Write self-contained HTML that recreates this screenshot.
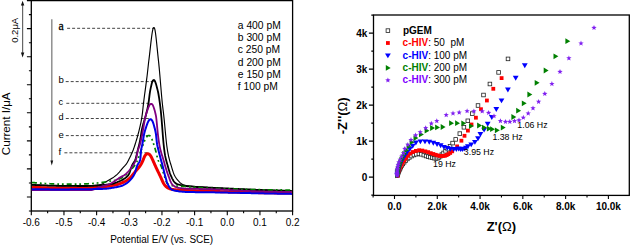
<!DOCTYPE html>
<html><head><meta charset="utf-8"><style>
html,body{margin:0;padding:0;background:#fff;width:630px;height:245px;overflow:hidden}
svg{display:block;font-family:"Liberation Sans", sans-serif}
</style></head><body>
<svg width="630" height="245" viewBox="0 0 630 245">
<rect width="630" height="245" fill="#fff"/>
<rect x="31.3" y="0.6" width="261.30" height="210.40" fill="none" stroke="#000" stroke-width="1.3"/>
<path d="M26.90 0.60H31.3 M28.90 14.63H31.3 M26.90 28.65H31.3 M28.90 42.68H31.3 M26.90 56.71H31.3 M28.90 70.73H31.3 M26.90 84.76H31.3 M28.90 98.79H31.3 M26.90 112.81H31.3 M28.90 126.84H31.3 M26.90 140.87H31.3 M28.90 154.89H31.3 M26.90 168.92H31.3 M28.90 182.95H31.3 M26.90 196.97H31.3 M28.90 211.00H31.3 M31.30 211.0V215.20 M47.63 211.0V213.20 M63.96 211.0V215.20 M80.29 211.0V213.20 M96.62 211.0V215.20 M112.96 211.0V213.20 M129.29 211.0V215.20 M145.62 211.0V213.20 M161.95 211.0V215.20 M178.28 211.0V213.20 M194.61 211.0V215.20 M210.94 211.0V213.20 M227.28 211.0V215.20 M243.61 211.0V213.20 M259.94 211.0V215.20 M276.27 211.0V213.20 M292.60 211.0V215.20" stroke="#000" stroke-width="1.1" fill="none"/>
<text x="31.30" y="225.8" text-anchor="middle" font-size="10" fill="#000">-0.6</text>
<text x="63.96" y="225.8" text-anchor="middle" font-size="10" fill="#000">-0.5</text>
<text x="96.62" y="225.8" text-anchor="middle" font-size="10" fill="#000">-0.4</text>
<text x="129.29" y="225.8" text-anchor="middle" font-size="10" fill="#000">-0.3</text>
<text x="161.95" y="225.8" text-anchor="middle" font-size="10" fill="#000">-0.2</text>
<text x="194.61" y="225.8" text-anchor="middle" font-size="10" fill="#000">-0.1</text>
<text x="227.28" y="225.8" text-anchor="middle" font-size="10" fill="#000">0.0</text>
<text x="259.94" y="225.8" text-anchor="middle" font-size="10" fill="#000">0.1</text>
<text x="292.60" y="225.8" text-anchor="middle" font-size="10" fill="#000">0.2</text>
<text x="110.2" y="242.9" font-size="10" textLength="103" lengthAdjust="spacingAndGlyphs" fill="#000">Potential E/V (vs. SCE)</text>
<text transform="translate(10.0 155.2) rotate(-90)" font-size="11" textLength="62.8" lengthAdjust="spacingAndGlyphs" fill="#000">Current I/&#956;A</text>
<text transform="translate(17.8 42.8) rotate(-90)" font-size="9.6" textLength="25" lengthAdjust="spacingAndGlyphs" fill="#000">0.2&#956;A</text>
<path d="M22.6 4V54" stroke="#666" stroke-width="1.2"/>
<path d="M20.9 5.6L22.6 0.8L24.3 5.6Z M20.9 52.4L22.6 57.4L24.3 52.4Z" fill="#111"/>
<path d="M51.8 19.3V161" stroke="#888" stroke-width="1.4"/>
<path d="M50.4 160.6L51.8 165.6L53.2 160.6Z" fill="#111"/>
<text x="58.4" y="30.3" font-family="Liberation Serif, serif" font-size="11.8" fill="#000" stroke="#000" stroke-width="0.3">a</text>
<text x="58.4" y="83.3" font-size="9.6" fill="#000">b</text>
<text x="58.4" y="104.6" font-size="9.2" fill="#000">c</text>
<text x="58.4" y="119.8" font-size="9.2" fill="#000">d</text>
<text x="58.4" y="137.7" font-size="9.6" fill="#000">e</text>
<text x="58.4" y="155.0" font-size="9.8" fill="#000">f</text>
<path d="M67.1 28.3H153.9" stroke="#444" stroke-width="1" stroke-dasharray="3 2"/>
<path d="M65.7 81.6H153.6" stroke="#444" stroke-width="1" stroke-dasharray="3 2"/>
<path d="M66.3 103.3H151.2" stroke="#444" stroke-width="1" stroke-dasharray="3 2"/>
<path d="M65.8 118.5H150.6" stroke="#444" stroke-width="1" stroke-dasharray="3 2"/>
<path d="M65.8 135.6H149" stroke="#444" stroke-width="1" stroke-dasharray="3 2"/>
<path d="M64.4 152.8H147.6" stroke="#444" stroke-width="1" stroke-dasharray="3 2"/>
<text x="237.8" y="29.00" font-size="10.3" fill="#000">a 400 pM</text>
<text x="237.8" y="41.20" font-size="10.3" fill="#000">b 300 pM</text>
<text x="237.8" y="53.40" font-size="10.3" fill="#000">c 250 pM</text>
<text x="237.8" y="65.60" font-size="10.3" fill="#000">d 200 pM</text>
<text x="237.8" y="77.80" font-size="10.3" fill="#000">e 150 pM</text>
<text x="237.8" y="90.00" font-size="10.3" fill="#000">f 100 pM</text>
<path d="M32.02 187.25 L32.62 187.27 L33.42 187.31 L34.33 187.35 L35.30 187.39 L36.30 187.43 L37.29 187.48 L38.29 187.52 L39.29 187.56 L40.29 187.60 L41.29 187.63 L42.29 187.67 L43.29 187.71 L44.29 187.74 L45.29 187.77 L46.29 187.80 L47.29 187.83 L48.29 187.86 L49.29 187.89 L50.29 187.91 L51.29 187.93 L52.29 187.95 L53.29 187.97 L54.29 187.99 L55.29 188.00 L56.29 188.02 L57.29 188.03 L58.29 188.04 L59.29 188.05 L60.29 188.07 L61.29 188.08 L62.29 188.09 L63.29 188.10 L64.29 188.11 L65.29 188.12 L66.29 188.13 L67.29 188.14 L68.29 188.15 L69.29 188.15 L70.28 188.16 L71.28 188.17 L72.28 188.17 L73.28 188.18 L74.28 188.19 L75.28 188.19 L76.28 188.19 L77.28 188.20 L78.28 188.20 L79.28 188.20 L80.28 188.19 L81.28 188.18 L82.28 188.17 L83.28 188.15 L84.28 188.12 L85.28 188.09 L86.28 188.05 L87.28 188.01 L88.28 187.96 L89.28 187.91 L90.28 187.85 L91.27 187.78 L92.27 187.71 L93.27 187.64 L94.27 187.57 L95.26 187.49 L96.26 187.41 L97.26 187.32 L98.25 187.23 L99.25 187.14 L100.24 187.05 L101.24 186.96 L102.24 186.87 L103.23 186.77 L104.23 186.67 L105.22 186.57 L106.21 186.45 L107.21 186.33 L108.20 186.20 L109.19 186.06 L110.18 185.91 L111.16 185.74 L112.15 185.56 L113.13 185.37 L114.11 185.17 L115.08 184.95 L116.05 184.72 L117.02 184.47 L117.98 184.19 L118.94 183.90 L119.88 183.58 L120.82 183.25 L121.76 182.89 L122.68 182.51 L123.60 182.11 L124.50 181.68 L125.38 181.22 L126.25 180.73 L127.09 180.20 L127.91 179.62 L128.70 179.02 L129.46 178.37 L130.19 177.69 L130.88 176.98 L131.54 176.24 L132.18 175.47 L132.80 174.69 L133.42 173.90 L134.04 173.12 L134.68 172.34 L135.32 171.58 L135.98 170.83 L136.64 170.08 L137.30 169.33 L137.95 168.57 L138.59 167.80 L139.21 167.02 L139.80 166.21 L140.37 165.39 L140.90 164.55 L141.40 163.68 L141.86 162.80 L142.30 161.90 L142.72 161.00 L143.11 160.08 L143.47 159.15 L143.83 158.22 L144.19 157.29 L144.59 156.39 L145.07 155.54 L145.64 154.79 L146.30 154.18 L147.05 153.80 L147.83 153.70 L148.61 153.91 L149.35 154.37 L150.00 155.02 L150.58 155.80 L151.09 156.64 L151.55 157.52 L151.99 158.42 L152.41 159.32 L152.82 160.23 L153.24 161.14 L153.64 162.06 L154.05 162.97 L154.45 163.89 L154.86 164.80 L155.27 165.71 L155.68 166.62 L156.10 167.53 L156.52 168.44 L156.95 169.34 L157.38 170.24 L157.82 171.14 L158.26 172.04 L158.70 172.94 L159.14 173.84 L159.57 174.74 L160.01 175.64 L160.43 176.54 L160.84 177.45 L161.25 178.37 L161.64 179.29 L162.04 180.20 L162.45 181.11 L162.88 182.02 L163.33 182.91 L163.82 183.77 L164.36 184.60 L164.96 185.39 L165.61 186.13 L166.33 186.82 L167.10 187.42 L167.93 187.94 L168.81 188.37 L169.73 188.72 L170.69 189.00 L171.65 189.24 L172.63 189.43 L173.62 189.59 L174.61 189.72 L175.60 189.83 L176.60 189.92 L177.59 190.01 L178.59 190.08 L179.59 190.15 L180.58 190.22 L181.58 190.28 L182.58 190.34 L183.58 190.39 L184.58 190.44 L185.58 190.49 L186.58 190.54 L187.57 190.58 L188.57 190.62 L189.57 190.66 L190.57 190.70 L191.57 190.73 L192.57 190.76 L193.57 190.80 L194.57 190.83 L195.57 190.86 L196.57 190.89 L197.57 190.92 L198.57 190.96 L199.57 190.99 L200.57 191.02 L201.57 191.05 L202.57 191.08 L203.57 191.11 L204.56 191.15 L205.56 191.18 L206.56 191.21 L207.56 191.24 L208.56 191.27 L209.56 191.31 L210.56 191.34 L211.56 191.37 L212.56 191.40 L213.56 191.43 L214.56 191.46 L215.56 191.50 L216.56 191.53 L217.56 191.56 L218.56 191.59 L219.56 191.62 L220.56 191.65 L221.56 191.68 L222.56 191.71 L223.56 191.74 L224.56 191.77 L225.55 191.80 L226.55 191.83 L227.55 191.86 L228.55 191.89 L229.55 191.92 L230.55 191.95 L231.55 191.98 L232.55 192.00 L233.55 192.03 L234.55 192.06 L235.55 192.09 L236.55 192.11 L237.55 192.14 L238.55 192.17 L239.55 192.19 L240.55 192.22 L241.55 192.25 L242.55 192.27 L243.55 192.30 L244.55 192.32 L245.55 192.35 L246.55 192.37 L247.55 192.39 L248.55 192.42 L249.55 192.44 L250.55 192.46 L251.55 192.49 L252.55 192.51 L253.55 192.53 L254.54 192.55 L255.54 192.57 L256.54 192.59 L257.54 192.61 L258.54 192.63 L259.54 192.65 L260.54 192.67 L261.54 192.69 L262.54 192.71 L263.54 192.72 L264.54 192.74 L265.54 192.76 L266.54 192.77 L267.54 192.79 L268.54 192.80 L269.54 192.82 L270.54 192.83 L271.54 192.85 L272.54 192.86 L273.54 192.87 L274.54 192.88 L275.54 192.90 L276.54 192.91 L277.54 192.92 L278.54 192.93 L279.54 192.94 L280.54 192.94 L281.54 192.95 L282.54 192.96 L283.54 192.97 L284.54 192.97 L285.54 192.98 L286.54 192.98 L287.54 192.99 L288.53 192.99 L289.51 192.99 L290.42 193.00 L291.22 193.00 L291.82 193.00" fill="none" stroke="#f00000" stroke-width="3.0" stroke-linejoin="round"/>
<path d="M31.78 184.84 L32.43 184.87 L33.32 184.91 L34.30 184.96 L35.30 185.00 L36.29 185.05 L37.29 185.09 L38.29 185.14 L39.29 185.18 L40.29 185.22 L41.29 185.27 L42.29 185.31 L43.29 185.35 L44.29 185.38 L45.29 185.42 L46.29 185.46 L47.29 185.49 L48.28 185.53 L49.28 185.56 L50.28 185.59 L51.28 185.62 L52.28 185.64 L53.28 185.67 L54.28 185.69 L55.28 185.72 L56.28 185.74 L57.28 185.76 L58.28 185.77 L59.28 185.79 L60.28 185.80 L61.28 185.82 L62.28 185.83 L63.28 185.84 L64.28 185.85 L65.28 185.86 L66.28 185.88 L67.28 185.89 L68.28 185.90 L69.28 185.91 L70.28 185.92 L71.28 185.93 L72.28 185.94 L73.28 185.95 L74.28 185.95 L75.28 185.96 L76.28 185.97 L77.28 185.98 L78.28 185.98 L79.28 185.99 L80.28 185.99 L81.28 185.99 L82.28 186.00 L83.28 186.00 L84.28 186.00 L85.28 185.99 L86.28 185.98 L87.28 185.96 L88.28 185.93 L89.28 185.89 L90.28 185.84 L91.27 185.77 L92.27 185.70 L93.27 185.62 L94.26 185.52 L95.26 185.42 L96.25 185.30 L97.24 185.18 L98.24 185.05 L99.22 184.89 L100.20 184.69 L101.15 184.40 L102.06 184.03 L102.95 183.58 L103.82 183.08 L104.68 182.58 L105.55 182.07 L106.42 181.58 L107.29 181.09 L108.16 180.59 L109.02 180.09 L109.88 179.57 L110.73 179.05 L111.57 178.52 L112.41 177.97 L113.25 177.42 L114.07 176.85 L114.87 176.26 L115.66 175.64 L116.43 175.01 L117.18 174.35 L117.91 173.66 L118.61 172.95 L119.28 172.21 L119.93 171.45 L120.55 170.67 L121.17 169.88 L121.79 169.10 L122.43 168.33 L123.09 167.58 L123.78 166.85 L124.47 166.13 L125.15 165.40 L125.80 164.64 L126.40 163.85 L126.95 163.02 L127.46 162.16 L127.94 161.28 L128.40 160.40 L128.85 159.50 L129.30 158.61 L129.75 157.72 L130.19 156.82 L130.62 155.92 L131.05 155.01 L131.46 154.10 L131.87 153.19 L132.27 152.27 L132.65 151.35 L133.02 150.42 L133.38 149.49 L133.72 148.55 L134.05 147.60 L134.36 146.65 L134.67 145.70 L134.98 144.75 L135.29 143.80 L135.59 142.85 L135.89 141.89 L136.19 140.94 L136.48 139.98 L136.77 139.03 L137.05 138.07 L137.33 137.10 L137.59 136.14 L137.85 135.17 L138.11 134.21 L138.36 133.24 L138.61 132.27 L138.86 131.30 L139.11 130.33 L139.35 129.37 L139.59 128.39 L139.82 127.42 L140.05 126.45 L140.27 125.47 L140.48 124.49 L140.69 123.52 L140.88 122.54 L141.08 121.55 L141.26 120.57 L141.44 119.59 L141.61 118.60 L141.78 117.62 L141.94 116.63 L142.09 115.64 L142.24 114.65 L142.37 113.66 L142.49 112.67 L142.60 111.67 L142.71 110.68 L142.81 109.69 L142.91 108.69 L143.01 107.70 L143.11 106.70 L143.22 105.71 L143.34 104.71 L143.45 103.72 L143.57 102.73 L143.70 101.74 L143.82 100.74 L143.95 99.75 L144.07 98.76 L144.20 97.77 L144.33 96.78 L144.46 95.78 L144.59 94.79 L144.72 93.80 L144.86 92.81 L144.99 91.82 L145.13 90.83 L145.26 89.84 L145.40 88.85 L145.53 87.86 L145.66 86.87 L145.80 85.87 L145.93 84.88 L146.06 83.89 L146.20 82.90 L146.33 81.91 L146.46 80.92 L146.58 79.93 L146.71 78.93 L146.84 77.94 L146.96 76.95 L147.08 75.96 L147.20 74.96 L147.32 73.97 L147.43 72.98 L147.55 71.98 L147.66 70.99 L147.77 70.00 L147.87 69.00 L147.98 68.01 L148.09 67.01 L148.20 66.02 L148.31 65.03 L148.42 64.03 L148.53 63.04 L148.65 62.05 L148.77 61.05 L148.89 60.06 L149.02 59.07 L149.14 58.08 L149.26 57.08 L149.38 56.09 L149.50 55.10 L149.61 54.10 L149.72 53.11 L149.84 52.12 L149.95 51.12 L150.06 50.13 L150.17 49.13 L150.28 48.14 L150.40 47.15 L150.51 46.15 L150.62 45.16 L150.73 44.17 L150.85 43.17 L150.96 42.18 L151.08 41.19 L151.20 40.19 L151.32 39.20 L151.44 38.21 L151.57 37.22 L151.70 36.22 L151.83 35.23 L151.97 34.24 L152.12 33.25 L152.28 32.27 L152.44 31.28 L152.63 30.30 L152.85 29.33 L153.12 28.42 L153.49 27.72 L153.93 27.50 L154.35 27.87 L154.67 28.64 L154.91 29.58 L155.10 30.56 L155.26 31.54 L155.41 32.53 L155.55 33.52 L155.68 34.51 L155.81 35.51 L155.93 36.50 L156.05 37.49 L156.16 38.49 L156.27 39.48 L156.38 40.47 L156.49 41.47 L156.59 42.46 L156.69 43.46 L156.80 44.45 L156.90 45.45 L157.00 46.44 L157.10 47.44 L157.20 48.43 L157.30 49.43 L157.40 50.42 L157.50 51.42 L157.60 52.41 L157.70 53.41 L157.80 54.40 L157.90 55.40 L158.01 56.39 L158.11 57.39 L158.22 58.38 L158.33 59.37 L158.44 60.37 L158.55 61.36 L158.65 62.36 L158.76 63.35 L158.86 64.35 L158.95 65.34 L159.05 66.34 L159.15 67.33 L159.24 68.33 L159.33 69.32 L159.42 70.32 L159.51 71.32 L159.60 72.31 L159.68 73.31 L159.77 74.30 L159.86 75.30 L159.94 76.30 L160.03 77.29 L160.11 78.29 L160.20 79.29 L160.28 80.28 L160.36 81.28 L160.45 82.28 L160.53 83.27 L160.61 84.27 L160.70 85.26 L160.78 86.26 L160.87 87.26 L160.95 88.25 L161.03 89.25 L161.12 90.25 L161.21 91.24 L161.29 92.24 L161.38 93.24 L161.47 94.23 L161.55 95.23 L161.64 96.22 L161.73 97.22 L161.83 98.22 L161.92 99.21 L162.01 100.21 L162.11 101.20 L162.21 102.20 L162.31 103.19 L162.42 104.19 L162.52 105.18 L162.63 106.17 L162.75 107.17 L162.87 108.16 L162.99 109.15 L163.11 110.15 L163.24 111.14 L163.36 112.13 L163.48 113.12 L163.60 114.12 L163.71 115.11 L163.82 116.10 L163.92 117.10 L164.03 118.09 L164.13 119.09 L164.23 120.08 L164.33 121.08 L164.42 122.07 L164.52 123.07 L164.61 124.06 L164.71 125.06 L164.80 126.06 L164.89 127.05 L164.99 128.05 L165.08 129.04 L165.17 130.04 L165.26 131.03 L165.36 132.03 L165.45 133.03 L165.55 134.02 L165.64 135.02 L165.74 136.01 L165.83 137.01 L165.93 138.00 L166.03 139.00 L166.14 139.99 L166.24 140.99 L166.35 141.98 L166.46 142.97 L166.58 143.97 L166.70 144.96 L166.82 145.95 L166.95 146.94 L167.09 147.93 L167.24 148.92 L167.39 149.91 L167.56 150.90 L167.74 151.88 L167.92 152.86 L168.11 153.85 L168.31 154.83 L168.51 155.80 L168.73 156.78 L168.95 157.75 L169.19 158.73 L169.43 159.70 L169.69 160.66 L169.96 161.63 L170.24 162.58 L170.54 163.54 L170.84 164.49 L171.13 165.45 L171.43 166.41 L171.71 167.36 L172.00 168.32 L172.29 169.28 L172.58 170.24 L172.88 171.19 L173.19 172.14 L173.53 173.08 L173.90 174.01 L174.30 174.92 L174.75 175.81 L175.24 176.68 L175.76 177.54 L176.32 178.37 L176.91 179.17 L177.54 179.94 L178.20 180.69 L178.88 181.42 L179.59 182.13 L180.31 182.82 L181.07 183.47 L181.87 184.05 L182.73 184.54 L183.64 184.92 L184.59 185.20 L185.57 185.40 L186.55 185.57 L187.54 185.71 L188.53 185.83 L189.53 185.95 L190.52 186.05 L191.52 186.15 L192.51 186.25 L193.51 186.33 L194.51 186.42 L195.50 186.49 L196.50 186.57 L197.50 186.64 L198.50 186.70 L199.49 186.77 L200.49 186.83 L201.49 186.88 L202.49 186.94 L203.49 186.99 L204.49 187.04 L205.48 187.09 L206.48 187.14 L207.48 187.18 L208.48 187.23 L209.48 187.28 L210.48 187.32 L211.48 187.37 L212.48 187.42 L213.48 187.47 L214.47 187.52 L215.47 187.56 L216.47 187.61 L217.47 187.66 L218.47 187.71 L219.47 187.76 L220.47 187.81 L221.47 187.85 L222.46 187.90 L223.46 187.95 L224.46 188.00 L225.46 188.05 L226.46 188.09 L227.46 188.14 L228.46 188.19 L229.46 188.24 L230.46 188.28 L231.45 188.33 L232.45 188.38 L233.45 188.42 L234.45 188.47 L235.45 188.52 L236.45 188.56 L237.45 188.61 L238.45 188.66 L239.45 188.70 L240.44 188.75 L241.44 188.79 L242.44 188.84 L243.44 188.88 L244.44 188.93 L245.44 188.97 L246.44 189.02 L247.44 189.06 L248.44 189.11 L249.44 189.15 L250.43 189.19 L251.43 189.24 L252.43 189.28 L253.43 189.32 L254.43 189.37 L255.43 189.41 L256.43 189.45 L257.43 189.49 L258.43 189.53 L259.43 189.58 L260.43 189.62 L261.43 189.66 L262.42 189.70 L263.42 189.74 L264.42 189.78 L265.42 189.82 L266.42 189.86 L267.42 189.90 L268.42 189.94 L269.42 189.98 L270.42 190.01 L271.42 190.05 L272.42 190.09 L273.42 190.13 L274.42 190.17 L275.41 190.21 L276.41 190.24 L277.41 190.28 L278.41 190.32 L279.41 190.35 L280.41 190.39 L281.41 190.43 L282.41 190.46 L283.41 190.50 L284.41 190.53 L285.41 190.57 L286.41 190.61 L287.41 190.64 L288.41 190.68 L289.40 190.71 L290.38 190.74 L291.27 190.77 L291.93 190.80" fill="none" stroke="#000" stroke-width="1.15" stroke-linejoin="round"/>
<path d="M31.78 184.84 L32.43 184.87 L33.32 184.91 L34.30 184.96 L35.30 185.00 L36.29 185.05 L37.29 185.09 L38.29 185.14 L39.29 185.18 L40.29 185.22 L41.29 185.27 L42.29 185.31 L43.29 185.35 L44.29 185.38 L45.29 185.42 L46.29 185.46 L47.29 185.49 L48.28 185.53 L49.28 185.56 L50.28 185.59 L51.28 185.62 L52.28 185.64 L53.28 185.67 L54.28 185.69 L55.28 185.72 L56.28 185.74 L57.28 185.76 L58.28 185.77 L59.28 185.79 L60.28 185.80 L61.28 185.82 L62.28 185.83 L63.28 185.84 L64.28 185.85 L65.28 185.86 L66.28 185.88 L67.28 185.89 L68.28 185.90 L69.28 185.91 L70.28 185.92 L71.28 185.93 L72.28 185.94 L73.28 185.95 L74.28 185.95 L75.28 185.96 L76.28 185.97 L77.28 185.98 L78.28 185.98 L79.28 185.99 L80.28 185.99 L81.28 185.99 L82.28 186.00 L83.28 186.00 L84.28 186.00 L85.28 186.00 L86.28 185.99 L87.28 185.98 L88.28 185.96 L89.28 185.93 L90.28 185.90 L91.28 185.86 L92.28 185.82 L93.28 185.77 L94.27 185.72 L95.27 185.66 L96.27 185.59 L97.27 185.52 L98.27 185.44 L99.26 185.36 L100.26 185.27 L101.25 185.18 L102.25 185.09 L103.24 184.99 L104.24 184.88 L105.23 184.77 L106.23 184.66 L107.22 184.54 L108.21 184.42 L109.20 184.29 L110.19 184.15 L111.18 183.98 L112.16 183.78 L113.13 183.54 L114.09 183.27 L115.04 182.96 L115.98 182.63 L116.92 182.28 L117.85 181.91 L118.77 181.53 L119.69 181.13 L120.60 180.72 L121.50 180.29 L122.40 179.85 L123.27 179.37 L124.13 178.85 L124.95 178.29 L125.75 177.69 L126.51 177.04 L127.23 176.35 L127.90 175.61 L128.50 174.83 L129.00 173.97 L129.41 173.07 L129.77 172.14 L130.09 171.19 L130.39 170.24 L130.69 169.29 L130.99 168.33 L131.30 167.38 L131.64 166.44 L132.02 165.52 L132.46 164.62 L132.95 163.76 L133.49 162.92 L134.03 162.08 L134.54 161.22 L134.99 160.33 L135.37 159.41 L135.70 158.47 L135.98 157.51 L136.24 156.55 L136.48 155.58 L136.72 154.61 L136.94 153.63 L137.17 152.66 L137.40 151.68 L137.63 150.71 L137.87 149.74 L138.11 148.77 L138.36 147.80 L138.61 146.83 L138.86 145.87 L139.10 144.90 L139.34 143.92 L139.56 142.95 L139.78 141.97 L139.99 141.00 L140.18 140.02 L140.37 139.03 L140.53 138.05 L140.69 137.06 L140.84 136.07 L140.98 135.08 L141.13 134.09 L141.28 133.10 L141.43 132.11 L141.60 131.13 L141.79 130.15 L141.99 129.17 L142.21 128.19 L142.44 127.22 L142.68 126.25 L142.94 125.28 L143.20 124.32 L143.48 123.36 L143.76 122.40 L144.05 121.44 L144.34 120.48 L144.63 119.53 L144.92 118.57 L145.19 117.61 L145.46 116.64 L145.72 115.68 L145.97 114.71 L146.22 113.74 L146.46 112.77 L146.70 111.80 L146.94 110.83 L147.17 109.86 L147.40 108.88 L147.61 107.91 L147.82 106.93 L148.01 105.95 L148.19 104.96 L148.36 103.98 L148.51 102.99 L148.65 102.00 L148.79 101.01 L148.91 100.02 L149.04 99.02 L149.16 98.03 L149.28 97.04 L149.40 96.05 L149.53 95.05 L149.66 94.06 L149.80 93.07 L149.94 92.08 L150.11 91.10 L150.29 90.12 L150.49 89.14 L150.70 88.16 L150.91 87.18 L151.13 86.20 L151.35 85.23 L151.58 84.26 L151.83 83.29 L152.10 82.33 L152.41 81.39 L152.82 80.57 L153.35 80.03 L153.95 80.00 L154.53 80.49 L154.99 81.28 L155.37 82.19 L155.70 83.13 L156.00 84.08 L156.28 85.04 L156.55 86.01 L156.81 86.97 L157.06 87.94 L157.31 88.91 L157.56 89.87 L157.79 90.85 L158.01 91.82 L158.21 92.80 L158.40 93.78 L158.58 94.77 L158.74 95.75 L158.91 96.74 L159.06 97.73 L159.21 98.72 L159.36 99.71 L159.50 100.70 L159.64 101.69 L159.78 102.68 L159.92 103.67 L160.05 104.66 L160.18 105.65 L160.31 106.64 L160.42 107.63 L160.54 108.63 L160.65 109.62 L160.75 110.62 L160.86 111.61 L160.96 112.61 L161.06 113.60 L161.16 114.60 L161.25 115.59 L161.35 116.59 L161.44 117.58 L161.53 118.58 L161.61 119.58 L161.69 120.57 L161.77 121.57 L161.85 122.57 L161.93 123.56 L162.01 124.56 L162.09 125.56 L162.16 126.55 L162.24 127.55 L162.32 128.55 L162.39 129.54 L162.47 130.54 L162.54 131.54 L162.62 132.54 L162.70 133.53 L162.77 134.53 L162.85 135.53 L162.93 136.52 L163.01 137.52 L163.10 138.52 L163.18 139.51 L163.27 140.51 L163.36 141.51 L163.45 142.50 L163.55 143.50 L163.65 144.49 L163.76 145.49 L163.86 146.48 L163.98 147.47 L164.09 148.47 L164.21 149.46 L164.33 150.45 L164.46 151.44 L164.60 152.43 L164.75 153.42 L164.91 154.41 L165.08 155.39 L165.28 156.38 L165.48 157.35 L165.70 158.33 L165.93 159.30 L166.18 160.27 L166.44 161.24 L166.70 162.20 L166.98 163.16 L167.25 164.12 L167.52 165.09 L167.79 166.05 L168.06 167.01 L168.33 167.98 L168.60 168.94 L168.88 169.90 L169.16 170.86 L169.46 171.81 L169.77 172.76 L170.11 173.70 L170.47 174.63 L170.86 175.56 L171.26 176.47 L171.68 177.38 L172.10 178.28 L172.55 179.18 L173.02 180.06 L173.53 180.92 L174.09 181.74 L174.74 182.48 L175.48 183.13 L176.30 183.66 L177.20 184.09 L178.13 184.45 L179.08 184.74 L180.05 184.99 L181.02 185.21 L182.00 185.41 L182.98 185.60 L183.97 185.76 L184.96 185.92 L185.95 186.06 L186.94 186.19 L187.93 186.30 L188.93 186.40 L189.92 186.49 L190.92 186.57 L191.92 186.65 L192.91 186.72 L193.91 186.80 L194.91 186.87 L195.91 186.95 L196.90 187.02 L197.90 187.10 L198.90 187.17 L199.90 187.24 L200.89 187.31 L201.89 187.38 L202.89 187.45 L203.89 187.52 L204.88 187.59 L205.88 187.66 L206.88 187.73 L207.88 187.80 L208.87 187.86 L209.87 187.93 L210.87 187.99 L211.87 188.06 L212.87 188.12 L213.86 188.18 L214.86 188.25 L215.86 188.31 L216.86 188.37 L217.86 188.43 L218.85 188.49 L219.85 188.55 L220.85 188.61 L221.85 188.67 L222.85 188.72 L223.85 188.78 L224.84 188.84 L225.84 188.89 L226.84 188.95 L227.84 189.00 L228.84 189.05 L229.84 189.11 L230.84 189.16 L231.83 189.21 L232.83 189.26 L233.83 189.31 L234.83 189.36 L235.83 189.40 L236.83 189.45 L237.83 189.50 L238.83 189.54 L239.83 189.59 L240.82 189.63 L241.82 189.68 L242.82 189.72 L243.82 189.76 L244.82 189.80 L245.82 189.84 L246.82 189.88 L247.82 189.92 L248.82 189.96 L249.82 190.00 L250.82 190.03 L251.82 190.07 L252.81 190.10 L253.81 190.14 L254.81 190.17 L255.81 190.20 L256.81 190.24 L257.81 190.27 L258.81 190.30 L259.81 190.33 L260.81 190.35 L261.81 190.38 L262.81 190.41 L263.81 190.43 L264.81 190.46 L265.81 190.48 L266.81 190.51 L267.81 190.53 L268.81 190.55 L269.81 190.57 L270.81 190.59 L271.81 190.61 L272.81 190.63 L273.81 190.65 L274.81 190.66 L275.81 190.68 L276.81 190.69 L277.81 190.70 L278.81 190.72 L279.81 190.73 L280.81 190.74 L281.81 190.75 L282.81 190.76 L283.81 190.77 L284.81 190.77 L285.81 190.78 L286.81 190.79 L287.81 190.79 L288.81 190.79 L289.80 190.80 L290.77 190.80 L291.61 190.80" fill="none" stroke="#000" stroke-width="1.8" stroke-linejoin="round"/>
<path d="M31.93 182.49 L32.55 182.54 L33.37 182.61 L34.31 182.69 L35.29 182.78 L36.28 182.86 L37.28 182.94 L38.28 183.01 L39.27 183.09 L40.27 183.16 L41.27 183.23 L42.27 183.30 L43.26 183.36 L44.26 183.42 L45.26 183.48 L46.26 183.54 L47.26 183.59 L48.26 183.65 L49.25 183.70 L50.25 183.74 L51.25 183.79 L52.25 183.83 L53.25 183.87 L54.25 183.91 L55.25 183.95 L56.25 183.98 L57.25 184.01 L58.25 184.04 L59.25 184.06 L60.25 184.09 L61.25 184.11 L62.25 184.13 L63.25 184.14 L64.25 184.16 L65.25 184.17 L66.25 184.18 L67.25 184.19 L68.25 184.19 L69.25 184.20 L70.25 184.20 L71.25 184.19 L72.25 184.19 L73.25 184.18 L74.25 184.17 L75.25 184.15 L76.25 184.13 L77.24 184.11 L78.24 184.09 L79.24 184.07 L80.24 184.04 L81.24 184.01 L82.24 183.98 L83.24 183.95 L84.24 183.92 L85.24 183.89 L86.24 183.85 L87.24 183.80 L88.24 183.75 L89.24 183.70 L90.23 183.63 L91.23 183.56 L92.23 183.49 L93.23 183.40 L94.22 183.32 L95.22 183.22 L96.21 183.12 L97.21 183.02 L98.20 182.90 L99.19 182.79 L100.19 182.67 L101.18 182.54 L102.17 182.41 L103.16 182.27 L104.15 182.13 L105.14 181.98 L106.13 181.83 L107.12 181.68 L108.10 181.52 L109.09 181.36 L110.08 181.19 L111.06 181.02 L112.04 180.84 L113.03 180.66 L114.01 180.48 L114.99 180.27 L115.96 180.05 L116.93 179.80 L117.89 179.52 L118.83 179.20 L119.76 178.83 L120.67 178.43 L121.56 177.97 L122.42 177.48 L123.27 176.95 L124.08 176.38 L124.88 175.77 L125.66 175.15 L126.42 174.50 L127.16 173.83 L127.88 173.14 L128.59 172.44 L129.29 171.72 L129.98 170.99 L130.65 170.25 L131.31 169.50 L131.96 168.74 L132.60 167.98 L133.24 167.21 L133.86 166.42 L134.47 165.63 L135.05 164.82 L135.60 163.99 L136.10 163.13 L136.57 162.24 L137.00 161.34 L137.40 160.43 L137.79 159.51 L138.16 158.58 L138.52 157.65 L138.87 156.71 L139.21 155.77 L139.54 154.83 L139.87 153.88 L140.20 152.94 L140.52 151.99 L140.84 151.04 L141.16 150.10 L141.49 149.15 L141.81 148.21 L142.14 147.26 L142.47 146.32 L142.80 145.37 L143.14 144.43 L143.49 143.50 L143.85 142.56 L144.22 141.63 L144.61 140.71 L145.01 139.80 L145.45 138.90 L145.92 138.03 L146.44 137.19 L147.03 136.44 L147.71 135.84 L148.45 135.50 L149.21 135.50 L149.92 135.86 L150.54 136.49 L151.05 137.28 L151.50 138.16 L151.89 139.07 L152.25 140.00 L152.60 140.94 L152.92 141.89 L153.24 142.84 L153.54 143.79 L153.85 144.74 L154.15 145.70 L154.44 146.65 L154.74 147.60 L155.04 148.56 L155.33 149.52 L155.61 150.47 L155.87 151.44 L156.12 152.41 L156.35 153.38 L156.57 154.36 L156.79 155.33 L157.01 156.31 L157.25 157.28 L157.51 158.24 L157.81 159.19 L158.16 160.12 L158.57 161.03 L159.03 161.91 L159.53 162.77 L160.02 163.64 L160.48 164.52 L160.90 165.43 L161.27 166.35 L161.61 167.29 L161.92 168.24 L162.21 169.20 L162.50 170.15 L162.78 171.11 L163.07 172.07 L163.36 173.03 L163.67 173.98 L163.98 174.93 L164.30 175.88 L164.62 176.82 L164.93 177.77 L165.24 178.72 L165.56 179.67 L165.88 180.62 L166.23 181.55 L166.62 182.46 L167.08 183.31 L167.65 184.05 L168.36 184.62 L169.20 185.02 L170.12 185.28 L171.09 185.47 L172.08 185.61 L173.07 185.74 L174.06 185.84 L175.06 185.94 L176.05 186.02 L177.05 186.10 L178.05 186.16 L179.05 186.22 L180.04 186.27 L181.04 186.32 L182.04 186.37 L183.04 186.41 L184.04 186.46 L185.04 186.50 L186.04 186.55 L187.04 186.61 L188.03 186.67 L189.03 186.74 L190.03 186.81 L191.03 186.89 L192.02 186.98 L193.02 187.06 L194.01 187.16 L195.01 187.25 L196.01 187.34 L197.00 187.43 L198.00 187.52 L198.99 187.60 L199.99 187.68 L200.99 187.76 L201.99 187.83 L202.98 187.89 L203.98 187.94 L204.98 187.99 L205.98 188.04 L206.98 188.08 L207.98 188.12 L208.98 188.16 L209.98 188.20 L210.98 188.24 L211.97 188.28 L212.97 188.32 L213.97 188.36 L214.97 188.39 L215.97 188.43 L216.97 188.47 L217.97 188.51 L218.97 188.54 L219.97 188.58 L220.97 188.61 L221.97 188.65 L222.97 188.68 L223.97 188.72 L224.97 188.75 L225.97 188.79 L226.96 188.82 L227.96 188.85 L228.96 188.89 L229.96 188.92 L230.96 188.95 L231.96 188.98 L232.96 189.02 L233.96 189.05 L234.96 189.08 L235.96 189.11 L236.96 189.14 L237.96 189.17 L238.96 189.19 L239.96 189.22 L240.96 189.25 L241.96 189.28 L242.96 189.30 L243.96 189.33 L244.96 189.36 L245.96 189.38 L246.96 189.41 L247.96 189.43 L248.96 189.46 L249.96 189.48 L250.96 189.50 L251.95 189.53 L252.95 189.55 L253.95 189.57 L254.95 189.59 L255.95 189.61 L256.95 189.63 L257.95 189.65 L258.95 189.67 L259.95 189.69 L260.95 189.71 L261.95 189.73 L262.95 189.74 L263.95 189.76 L264.95 189.78 L265.95 189.79 L266.95 189.81 L267.95 189.82 L268.95 189.84 L269.95 189.85 L270.95 189.86 L271.95 189.88 L272.95 189.89 L273.95 189.90 L274.95 189.91 L275.95 189.92 L276.95 189.93 L277.95 189.94 L278.95 189.95 L279.95 189.95 L280.95 189.96 L281.95 189.97 L282.95 189.97 L283.95 189.98 L284.95 189.98 L285.95 189.99 L286.95 189.99 L287.95 189.99 L288.94 190.00 L289.91 190.00 L290.80 190.00 L291.53 190.00" fill="none" stroke="#008000" stroke-width="1.7" stroke-linejoin="round" stroke-dasharray="5 3 1.8 2.8 1.8 3"/>
<path d="M31.78 190.01 L32.43 190.01 L33.32 190.02 L34.30 190.03 L35.30 190.04 L36.30 190.05 L37.30 190.06 L38.30 190.07 L39.30 190.07 L40.30 190.08 L41.30 190.09 L42.30 190.09 L43.30 190.10 L44.30 190.11 L45.30 190.11 L46.30 190.12 L47.30 190.12 L48.30 190.13 L49.30 190.13 L50.30 190.14 L51.30 190.14 L52.30 190.15 L53.30 190.15 L54.30 190.16 L55.30 190.16 L56.30 190.16 L57.30 190.17 L58.30 190.17 L59.30 190.17 L60.30 190.17 L61.30 190.18 L62.30 190.18 L63.30 190.18 L64.30 190.18 L65.30 190.19 L66.30 190.19 L67.30 190.19 L68.30 190.19 L69.30 190.19 L70.30 190.19 L71.30 190.19 L72.30 190.19 L73.30 190.20 L74.30 190.20 L75.30 190.20 L76.30 190.20 L77.30 190.20 L78.30 190.20 L79.30 190.20 L80.30 190.20 L81.30 190.20 L82.30 190.20 L83.30 190.20 L84.30 190.20 L85.30 190.20 L86.30 190.20 L87.30 190.20 L88.30 190.20 L89.30 190.18 L90.30 190.14 L91.28 190.03 L92.26 189.85 L93.23 189.59 L94.17 189.28 L95.11 188.93 L96.04 188.56 L96.96 188.18 L97.89 187.80 L98.82 187.44 L99.76 187.10 L100.71 186.80 L101.67 186.51 L102.63 186.24 L103.59 185.97 L104.56 185.70 L105.52 185.42 L106.48 185.13 L107.43 184.83 L108.37 184.50 L109.31 184.15 L110.23 183.76 L111.13 183.33 L112.00 182.85 L112.86 182.34 L113.70 181.80 L114.53 181.24 L115.35 180.67 L116.16 180.09 L116.98 179.51 L117.80 178.94 L118.63 178.38 L119.48 177.85 L120.34 177.34 L121.21 176.86 L122.09 176.39 L122.98 175.92 L123.84 175.42 L124.67 174.87 L125.47 174.28 L126.24 173.63 L126.96 172.95 L127.66 172.24 L128.34 171.50 L128.99 170.74 L129.62 169.96 L130.23 169.18 L130.83 168.38 L131.42 167.57 L132.00 166.75 L132.57 165.93 L133.13 165.10 L133.68 164.27 L134.21 163.42 L134.71 162.55 L135.16 161.67 L135.56 160.75 L135.90 159.82 L136.19 158.86 L136.42 157.89 L136.63 156.91 L136.81 155.93 L136.99 154.95 L137.17 153.96 L137.36 152.98 L137.55 152.00 L137.77 151.02 L138.02 150.06 L138.31 149.10 L138.64 148.16 L139.00 147.22 L139.34 146.29 L139.66 145.34 L139.96 144.39 L140.22 143.42 L140.47 142.45 L140.70 141.48 L140.92 140.51 L141.14 139.53 L141.35 138.55 L141.56 137.57 L141.76 136.60 L141.97 135.62 L142.17 134.64 L142.37 133.66 L142.55 132.67 L142.73 131.69 L142.91 130.71 L143.08 129.72 L143.25 128.74 L143.42 127.75 L143.58 126.76 L143.75 125.78 L143.91 124.79 L144.08 123.80 L144.25 122.82 L144.42 121.83 L144.60 120.85 L144.79 119.87 L144.98 118.89 L145.18 117.91 L145.40 116.93 L145.65 115.96 L145.92 115.00 L146.20 114.04 L146.50 113.09 L146.80 112.13 L147.11 111.18 L147.42 110.23 L147.74 109.28 L148.07 108.34 L148.43 107.41 L148.81 106.49 L149.24 105.59 L149.74 104.76 L150.35 104.10 L151.07 103.80 L151.79 103.98 L152.41 104.58 L152.91 105.39 L153.31 106.30 L153.66 107.23 L153.98 108.18 L154.28 109.13 L154.55 110.10 L154.82 111.06 L155.07 112.03 L155.31 113.00 L155.55 113.97 L155.76 114.94 L155.95 115.93 L156.12 116.91 L156.25 117.90 L156.37 118.89 L156.49 119.89 L156.59 120.88 L156.69 121.88 L156.79 122.87 L156.89 123.87 L156.98 124.86 L157.07 125.86 L157.17 126.85 L157.26 127.85 L157.35 128.85 L157.45 129.84 L157.55 130.84 L157.65 131.83 L157.75 132.83 L157.86 133.82 L157.98 134.81 L158.10 135.81 L158.23 136.80 L158.35 137.79 L158.48 138.78 L158.61 139.77 L158.75 140.76 L158.89 141.75 L159.04 142.74 L159.19 143.73 L159.36 144.72 L159.54 145.70 L159.74 146.68 L159.95 147.66 L160.17 148.63 L160.41 149.60 L160.66 150.57 L160.92 151.54 L161.19 152.50 L161.47 153.46 L161.76 154.41 L162.06 155.37 L162.36 156.32 L162.67 157.28 L162.96 158.23 L163.25 159.19 L163.53 160.15 L163.81 161.11 L164.08 162.07 L164.35 163.04 L164.62 164.00 L164.89 164.96 L165.17 165.92 L165.46 166.88 L165.75 167.83 L166.04 168.79 L166.33 169.75 L166.63 170.70 L166.94 171.65 L167.25 172.60 L167.58 173.55 L167.92 174.49 L168.26 175.43 L168.61 176.36 L168.96 177.30 L169.30 178.24 L169.65 179.18 L170.01 180.11 L170.39 181.04 L170.79 181.95 L171.22 182.85 L171.72 183.71 L172.30 184.51 L172.98 185.22 L173.75 185.84 L174.58 186.39 L175.46 186.86 L176.37 187.24 L177.32 187.53 L178.30 187.75 L179.28 187.94 L180.26 188.10 L181.25 188.24 L182.25 188.37 L183.24 188.48 L184.23 188.57 L185.23 188.65 L186.23 188.71 L187.23 188.76 L188.23 188.80 L189.23 188.83 L190.23 188.85 L191.23 188.87 L192.23 188.89 L193.23 188.91 L194.23 188.92 L195.23 188.93 L196.23 188.95 L197.23 188.96 L198.23 188.97 L199.23 188.99 L200.23 189.00 L201.22 189.02 L202.22 189.04 L203.22 189.06 L204.22 189.08 L205.22 189.10 L206.22 189.12 L207.22 189.14 L208.22 189.16 L209.22 189.18 L210.22 189.21 L211.22 189.23 L212.22 189.26 L213.22 189.29 L214.22 189.33 L215.22 189.36 L216.22 189.40 L217.22 189.44 L218.22 189.48 L219.22 189.52 L220.22 189.56 L221.22 189.60 L222.21 189.65 L223.21 189.70 L224.21 189.74 L225.21 189.79 L226.21 189.84 L227.21 189.89 L228.21 189.94 L229.21 189.99 L230.20 190.05 L231.20 190.10 L232.20 190.15 L233.20 190.20 L234.20 190.26 L235.20 190.31 L236.20 190.36 L237.20 190.42 L238.19 190.47 L239.19 190.52 L240.19 190.57 L241.19 190.62 L242.19 190.68 L243.19 190.73 L244.19 190.78 L245.18 190.83 L246.18 190.87 L247.18 190.92 L248.18 190.97 L249.18 191.01 L250.18 191.06 L251.18 191.10 L252.18 191.14 L253.18 191.18 L254.18 191.22 L255.18 191.25 L256.17 191.29 L257.17 191.32 L258.17 191.35 L259.17 191.38 L260.17 191.40 L261.17 191.43 L262.17 191.45 L263.17 191.48 L264.17 191.50 L265.17 191.53 L266.17 191.55 L267.17 191.58 L268.17 191.60 L269.17 191.62 L270.17 191.64 L271.17 191.67 L272.17 191.69 L273.17 191.71 L274.17 191.73 L275.17 191.75 L276.17 191.77 L277.17 191.79 L278.17 191.81 L279.17 191.83 L280.17 191.84 L281.17 191.86 L282.17 191.88 L283.17 191.89 L284.17 191.91 L285.17 191.92 L286.17 191.93 L287.17 191.95 L288.17 191.96 L289.17 191.97 L290.15 191.98 L291.08 191.99 L291.80 192.00" fill="none" stroke="#800080" stroke-width="1.8" stroke-linejoin="round"/>
<path d="M31.78 189.21 L32.43 189.22 L33.32 189.23 L34.30 189.24 L35.30 189.26 L36.30 189.27 L37.30 189.28 L38.30 189.29 L39.30 189.30 L40.30 189.31 L41.30 189.32 L42.30 189.33 L43.30 189.33 L44.30 189.34 L45.30 189.35 L46.30 189.36 L47.30 189.36 L48.30 189.37 L49.30 189.37 L50.30 189.38 L51.30 189.38 L52.30 189.39 L53.30 189.39 L54.30 189.39 L55.30 189.39 L56.30 189.40 L57.30 189.40 L58.30 189.40 L59.30 189.40 L60.30 189.40 L61.30 189.40 L62.30 189.40 L63.30 189.40 L64.30 189.40 L65.30 189.39 L66.30 189.39 L67.30 189.39 L68.30 189.38 L69.30 189.38 L70.30 189.37 L71.30 189.37 L72.30 189.36 L73.30 189.36 L74.30 189.35 L75.30 189.34 L76.30 189.34 L77.30 189.33 L78.30 189.32 L79.30 189.31 L80.30 189.30 L81.30 189.29 L82.30 189.28 L83.30 189.27 L84.30 189.26 L85.30 189.24 L86.30 189.23 L87.30 189.22 L88.30 189.20 L89.30 189.19 L90.30 189.17 L91.30 189.16 L92.30 189.14 L93.30 189.12 L94.30 189.11 L95.30 189.09 L96.30 189.07 L97.30 189.05 L98.30 189.03 L99.30 189.01 L100.30 188.99 L101.30 188.96 L102.29 188.91 L103.29 188.86 L104.29 188.79 L105.29 188.72 L106.28 188.63 L107.28 188.53 L108.27 188.42 L109.27 188.30 L110.26 188.17 L111.25 188.03 L112.24 187.88 L113.22 187.73 L114.21 187.56 L115.19 187.38 L116.18 187.20 L117.16 187.00 L118.14 186.80 L119.11 186.58 L120.08 186.35 L121.04 186.06 L121.98 185.73 L122.90 185.34 L123.79 184.90 L124.67 184.42 L125.53 183.92 L126.38 183.38 L127.20 182.81 L127.99 182.21 L128.74 181.56 L129.47 180.87 L130.16 180.14 L130.82 179.40 L131.47 178.63 L132.09 177.85 L132.68 177.05 L133.23 176.22 L133.75 175.36 L134.22 174.48 L134.63 173.58 L134.99 172.65 L135.31 171.70 L135.61 170.74 L135.89 169.78 L136.16 168.82 L136.44 167.86 L136.74 166.91 L137.07 165.97 L137.46 165.05 L137.93 164.18 L138.47 163.35 L139.02 162.52 L139.50 161.65 L139.88 160.74 L140.15 159.79 L140.33 158.81 L140.45 157.82 L140.54 156.82 L140.61 155.83 L140.69 154.83 L140.76 153.83 L140.83 152.84 L140.92 151.84 L141.02 150.84 L141.15 149.85 L141.32 148.87 L141.52 147.89 L141.74 146.92 L141.97 145.94 L142.19 144.97 L142.39 143.99 L142.57 143.00 L142.74 142.02 L142.91 141.03 L143.07 140.05 L143.23 139.06 L143.40 138.07 L143.56 137.09 L143.73 136.10 L143.91 135.12 L144.11 134.14 L144.32 133.16 L144.57 132.19 L144.84 131.23 L145.12 130.27 L145.42 129.32 L145.71 128.36 L146.02 127.41 L146.33 126.46 L146.65 125.51 L146.98 124.57 L147.33 123.63 L147.71 122.71 L148.12 121.80 L148.58 120.92 L149.13 120.12 L149.79 119.53 L150.54 119.30 L151.27 119.55 L151.89 120.18 L152.38 121.00 L152.78 121.91 L153.13 122.84 L153.45 123.79 L153.75 124.75 L154.02 125.71 L154.29 126.67 L154.54 127.64 L154.79 128.61 L155.03 129.58 L155.26 130.55 L155.48 131.53 L155.67 132.51 L155.84 133.49 L155.97 134.48 L156.10 135.47 L156.21 136.47 L156.31 137.46 L156.42 138.46 L156.52 139.45 L156.63 140.45 L156.73 141.44 L156.85 142.43 L156.98 143.43 L157.12 144.41 L157.30 145.40 L157.50 146.38 L157.72 147.35 L157.97 148.32 L158.21 149.29 L158.46 150.26 L158.71 151.23 L158.95 152.20 L159.20 153.17 L159.45 154.13 L159.70 155.10 L159.95 156.07 L160.21 157.04 L160.46 158.00 L160.72 158.97 L160.99 159.93 L161.25 160.90 L161.52 161.86 L161.79 162.82 L162.06 163.79 L162.33 164.75 L162.58 165.72 L162.83 166.69 L163.07 167.66 L163.30 168.63 L163.54 169.60 L163.77 170.57 L164.01 171.55 L164.25 172.52 L164.50 173.49 L164.75 174.45 L165.02 175.42 L165.28 176.38 L165.55 177.34 L165.82 178.31 L166.09 179.27 L166.37 180.23 L166.65 181.19 L166.96 182.14 L167.30 183.08 L167.67 184.00 L168.10 184.90 L168.59 185.78 L169.11 186.63 L169.67 187.45 L170.28 188.24 L170.96 188.95 L171.73 189.55 L172.60 190.00 L173.53 190.32 L174.49 190.56 L175.47 190.76 L176.45 190.95 L177.44 191.11 L178.43 191.26 L179.42 191.40 L180.41 191.51 L181.41 191.62 L182.40 191.70 L183.40 191.78 L184.40 191.85 L185.40 191.90 L186.40 191.94 L187.40 191.98 L188.39 192.01 L189.39 192.03 L190.39 192.05 L191.39 192.07 L192.39 192.09 L193.39 192.11 L194.39 192.12 L195.39 192.14 L196.39 192.15 L197.39 192.16 L198.39 192.17 L199.39 192.18 L200.39 192.19 L201.39 192.20 L202.39 192.21 L203.39 192.22 L204.39 192.23 L205.39 192.24 L206.39 192.25 L207.39 192.26 L208.39 192.28 L209.39 192.29 L210.39 192.31 L211.39 192.32 L212.39 192.34 L213.39 192.36 L214.39 192.37 L215.39 192.39 L216.39 192.41 L217.39 192.43 L218.39 192.44 L219.39 192.46 L220.39 192.48 L221.39 192.50 L222.39 192.52 L223.39 192.54 L224.39 192.56 L225.39 192.58 L226.39 192.60 L227.39 192.62 L228.39 192.64 L229.39 192.66 L230.39 192.68 L231.39 192.70 L232.39 192.72 L233.39 192.74 L234.39 192.77 L235.39 192.79 L236.39 192.81 L237.39 192.83 L238.39 192.85 L239.39 192.87 L240.39 192.89 L241.39 192.91 L242.39 192.94 L243.39 192.96 L244.39 192.98 L245.39 193.00 L246.39 193.02 L247.38 193.04 L248.38 193.06 L249.38 193.08 L250.38 193.11 L251.38 193.13 L252.38 193.15 L253.38 193.17 L254.38 193.19 L255.38 193.21 L256.38 193.23 L257.38 193.25 L258.38 193.27 L259.38 193.29 L260.38 193.31 L261.38 193.33 L262.38 193.35 L263.38 193.37 L264.38 193.38 L265.38 193.40 L266.38 193.42 L267.38 193.44 L268.38 193.46 L269.38 193.48 L270.38 193.50 L271.38 193.52 L272.38 193.54 L273.38 193.55 L274.38 193.57 L275.38 193.59 L276.38 193.61 L277.38 193.63 L278.38 193.65 L279.38 193.67 L280.38 193.69 L281.38 193.70 L282.38 193.72 L283.38 193.74 L284.38 193.76 L285.38 193.78 L286.38 193.80 L287.38 193.82 L288.38 193.83 L289.37 193.85 L290.35 193.87 L291.24 193.89 L291.90 193.90" fill="none" stroke="#0000e6" stroke-width="2.0" stroke-linejoin="round"/>
<rect x="373.5" y="15.0" width="255.80" height="180.40" fill="none" stroke="#000" stroke-width="1.3"/>
<path d="M368.90 177.10H373.5 M371.30 159.10H373.5 M368.90 141.10H373.5 M371.30 123.10H373.5 M368.90 105.10H373.5 M371.30 87.10H373.5 M368.90 69.10H373.5 M371.30 51.10H373.5 M368.90 33.10H373.5 M371.30 15.10H373.5 M371.30 195.10H373.5 M394.50 195.4V199.00 M415.89 195.4V197.40 M437.28 195.4V199.00 M458.67 195.4V197.40 M480.06 195.4V199.00 M501.45 195.4V197.40 M522.84 195.4V199.00 M544.23 195.4V197.40 M565.62 195.4V199.00 M587.01 195.4V197.40 M608.40 195.4V199.00 M373.11 195.4V197.40" stroke="#000" stroke-width="1.1" fill="none"/>
<text x="367.4" y="180.60" text-anchor="end" font-size="10" font-weight="bold" fill="#000">0</text>
<text x="367.4" y="144.60" text-anchor="end" font-size="10" font-weight="bold" fill="#000">1k</text>
<text x="367.4" y="108.60" text-anchor="end" font-size="10" font-weight="bold" fill="#000">2k</text>
<text x="367.4" y="72.60" text-anchor="end" font-size="10" font-weight="bold" fill="#000">3k</text>
<text x="367.4" y="36.60" text-anchor="end" font-size="10" font-weight="bold" fill="#000">4k</text>
<text x="394.50" y="210.1" text-anchor="middle" font-size="10" font-weight="bold" fill="#000">0.0</text>
<text x="437.28" y="210.1" text-anchor="middle" font-size="10" font-weight="bold" fill="#000">2.0k</text>
<text x="480.06" y="210.1" text-anchor="middle" font-size="10" font-weight="bold" fill="#000">4.0k</text>
<text x="522.84" y="210.1" text-anchor="middle" font-size="10" font-weight="bold" fill="#000">6.0k</text>
<text x="565.62" y="210.1" text-anchor="middle" font-size="10" font-weight="bold" fill="#000">8.0k</text>
<text x="608.40" y="210.1" text-anchor="middle" font-size="10" font-weight="bold" fill="#000">10.0k</text>
<text x="501.4" y="230.6" text-anchor="middle" font-size="13" fill="#000"><tspan font-weight="bold">Z'(</tspan>&#937;<tspan font-weight="bold">)</tspan></text>
<text transform="translate(347 115.8) rotate(-90)" text-anchor="middle" font-size="13" fill="#000"><tspan font-weight="bold">-Z''(</tspan>&#937;<tspan font-weight="bold">)</tspan></text>
<rect x="386.10" y="28.80" width="3.6" height="3.6" fill="#fff" stroke="#222" stroke-width="0.8"/>
<text x="402.9" y="33.6" font-size="10" font-weight="bold" fill="#000">pGEM</text>
<rect x="386.00" y="41.10" width="3.8" height="3.8" fill="#ff0000"/>
<text x="402.6" y="46.0" font-size="10"><tspan font-weight="bold" fill="#ff0000">c-HIV</tspan><tspan fill="#000">: 50&#160; pM</tspan></text>
<path d="M385.00 53.40H390.80L387.90 58.30Z" fill="#0000ff"/>
<text x="402.6" y="58.5" font-size="10"><tspan font-weight="bold" fill="#0000ff">c-HIV</tspan><tspan fill="#000">: 100 pM</tspan></text>
<path d="M385.80 65.00V70.80L390.70 67.90Z" fill="#008000"/>
<text x="402.6" y="70.9" font-size="10"><tspan font-weight="bold" fill="#008000">c-HIV</tspan><tspan fill="#000">: 200 pM</tspan></text>
<path d="M387.90 77.50 L388.61 79.33 L390.56 79.43 L389.04 80.67 L389.55 82.57 L387.90 81.50 L386.25 82.57 L386.76 80.67 L385.24 79.43 L387.19 79.33Z" fill="#8020f0"/>
<text x="402.6" y="83.3" font-size="10"><tspan font-weight="bold" fill="#8000ff">c-HIV</tspan><tspan fill="#000">: 300 pM</tspan></text>
<g><rect x="395.46" y="173.76" width="3.6" height="3.6" fill="#fff" stroke="#222" stroke-width="0.8"/><rect x="395.57" y="173.33" width="3.6" height="3.6" fill="#fff" stroke="#222" stroke-width="0.8"/><rect x="395.72" y="172.83" width="3.6" height="3.6" fill="#fff" stroke="#222" stroke-width="0.8"/><rect x="395.90" y="172.26" width="3.6" height="3.6" fill="#fff" stroke="#222" stroke-width="0.8"/><rect x="396.12" y="171.60" width="3.6" height="3.6" fill="#fff" stroke="#222" stroke-width="0.8"/><rect x="396.39" y="170.85" width="3.6" height="3.6" fill="#fff" stroke="#222" stroke-width="0.8"/><rect x="396.73" y="169.98" width="3.6" height="3.6" fill="#fff" stroke="#222" stroke-width="0.8"/><rect x="397.14" y="169.00" width="3.6" height="3.6" fill="#fff" stroke="#222" stroke-width="0.8"/><rect x="397.65" y="167.89" width="3.6" height="3.6" fill="#fff" stroke="#222" stroke-width="0.8"/><rect x="398.27" y="166.64" width="3.6" height="3.6" fill="#fff" stroke="#222" stroke-width="0.8"/><rect x="399.02" y="165.27" width="3.6" height="3.6" fill="#fff" stroke="#222" stroke-width="0.8"/><rect x="399.93" y="163.76" width="3.6" height="3.6" fill="#fff" stroke="#222" stroke-width="0.8"/><rect x="401.02" y="162.16" width="3.6" height="3.6" fill="#fff" stroke="#222" stroke-width="0.8"/><rect x="402.32" y="160.48" width="3.6" height="3.6" fill="#fff" stroke="#222" stroke-width="0.8"/><rect x="403.84" y="158.78" width="3.6" height="3.6" fill="#fff" stroke="#222" stroke-width="0.8"/><rect x="405.59" y="157.13" width="3.6" height="3.6" fill="#fff" stroke="#222" stroke-width="0.8"/><rect x="407.57" y="155.60" width="3.6" height="3.6" fill="#fff" stroke="#222" stroke-width="0.8"/><rect x="409.76" y="154.27" width="3.6" height="3.6" fill="#fff" stroke="#222" stroke-width="0.8"/><rect x="412.11" y="153.20" width="3.6" height="3.6" fill="#fff" stroke="#222" stroke-width="0.8"/><rect x="414.57" y="152.46" width="3.6" height="3.6" fill="#fff" stroke="#222" stroke-width="0.8"/><rect x="417.09" y="152.05" width="3.6" height="3.6" fill="#fff" stroke="#222" stroke-width="0.8"/><rect x="419.58" y="152.47" width="3.6" height="3.6" fill="#fff" stroke="#222" stroke-width="0.8"/><rect x="422.01" y="153.31" width="3.6" height="3.6" fill="#fff" stroke="#222" stroke-width="0.8"/><rect x="424.32" y="154.22" width="3.6" height="3.6" fill="#fff" stroke="#222" stroke-width="0.8"/><rect x="426.51" y="154.79" width="3.6" height="3.6" fill="#fff" stroke="#222" stroke-width="0.8"/><rect x="428.56" y="155.38" width="3.6" height="3.6" fill="#fff" stroke="#222" stroke-width="0.8"/><rect x="430.47" y="155.89" width="3.6" height="3.6" fill="#fff" stroke="#222" stroke-width="0.8"/><rect x="432.31" y="156.33" width="3.6" height="3.6" fill="#fff" stroke="#222" stroke-width="0.8"/><rect x="434.11" y="156.63" width="3.6" height="3.6" fill="#fff" stroke="#222" stroke-width="0.8"/><rect x="435.75" y="156.44" width="3.6" height="3.6" fill="#fff" stroke="#222" stroke-width="0.8"/><rect x="437.17" y="155.56" width="3.6" height="3.6" fill="#fff" stroke="#222" stroke-width="0.8"/><rect x="438.60" y="154.36" width="3.6" height="3.6" fill="#fff" stroke="#222" stroke-width="0.8"/><rect x="440.08" y="152.80" width="3.6" height="3.6" fill="#fff" stroke="#222" stroke-width="0.8"/><rect x="441.77" y="151.14" width="3.6" height="3.6" fill="#fff" stroke="#222" stroke-width="0.8"/><rect x="443.77" y="149.48" width="3.6" height="3.6" fill="#fff" stroke="#222" stroke-width="0.8"/><rect x="445.90" y="147.30" width="3.6" height="3.6" fill="#fff" stroke="#222" stroke-width="0.8"/><rect x="448.23" y="144.57" width="3.6" height="3.6" fill="#fff" stroke="#222" stroke-width="0.8"/><rect x="450.80" y="141.30" width="3.6" height="3.6" fill="#fff" stroke="#222" stroke-width="0.8"/><rect x="453.90" y="137.60" width="3.6" height="3.6" fill="#fff" stroke="#222" stroke-width="0.8"/><rect x="458.00" y="131.80" width="3.6" height="3.6" fill="#fff" stroke="#222" stroke-width="0.8"/><rect x="462.10" y="125.50" width="3.6" height="3.6" fill="#fff" stroke="#222" stroke-width="0.8"/><rect x="466.00" y="119.00" width="3.6" height="3.6" fill="#fff" stroke="#222" stroke-width="0.8"/><rect x="470.50" y="111.80" width="3.6" height="3.6" fill="#fff" stroke="#222" stroke-width="0.8"/><rect x="476.20" y="103.70" width="3.6" height="3.6" fill="#fff" stroke="#222" stroke-width="0.8"/><rect x="481.70" y="93.20" width="3.6" height="3.6" fill="#fff" stroke="#222" stroke-width="0.8"/><rect x="488.10" y="82.20" width="3.6" height="3.6" fill="#fff" stroke="#222" stroke-width="0.8"/><rect x="496.80" y="70.60" width="3.6" height="3.6" fill="#fff" stroke="#222" stroke-width="0.8"/><rect x="506.20" y="57.10" width="3.6" height="3.6" fill="#fff" stroke="#222" stroke-width="0.8"/></g>
<g><rect x="395.31" y="173.87" width="3.8" height="3.8" fill="#ff0000"/><rect x="395.36" y="173.52" width="3.8" height="3.8" fill="#ff0000"/><rect x="395.45" y="173.12" width="3.8" height="3.8" fill="#ff0000"/><rect x="395.56" y="172.64" width="3.8" height="3.8" fill="#ff0000"/><rect x="395.70" y="172.08" width="3.8" height="3.8" fill="#ff0000"/><rect x="395.89" y="171.41" width="3.8" height="3.8" fill="#ff0000"/><rect x="396.14" y="170.62" width="3.8" height="3.8" fill="#ff0000"/><rect x="396.45" y="169.70" width="3.8" height="3.8" fill="#ff0000"/><rect x="396.84" y="168.63" width="3.8" height="3.8" fill="#ff0000"/><rect x="397.34" y="167.39" width="3.8" height="3.8" fill="#ff0000"/><rect x="397.97" y="165.97" width="3.8" height="3.8" fill="#ff0000"/><rect x="398.75" y="164.37" width="3.8" height="3.8" fill="#ff0000"/><rect x="399.73" y="162.60" width="3.8" height="3.8" fill="#ff0000"/><rect x="400.92" y="160.66" width="3.8" height="3.8" fill="#ff0000"/><rect x="402.33" y="158.54" width="3.8" height="3.8" fill="#ff0000"/><rect x="404.00" y="156.35" width="3.8" height="3.8" fill="#ff0000"/><rect x="405.90" y="153.97" width="3.8" height="3.8" fill="#ff0000"/><rect x="408.08" y="151.69" width="3.8" height="3.8" fill="#ff0000"/><rect x="410.90" y="150.12" width="3.8" height="3.8" fill="#ff0000"/><rect x="413.99" y="149.00" width="3.8" height="3.8" fill="#ff0000"/><rect x="417.24" y="148.34" width="3.8" height="3.8" fill="#ff0000"/><rect x="420.39" y="148.67" width="3.8" height="3.8" fill="#ff0000"/><rect x="423.46" y="149.47" width="3.8" height="3.8" fill="#ff0000"/><rect x="426.27" y="150.23" width="3.8" height="3.8" fill="#ff0000"/><rect x="428.90" y="151.26" width="3.8" height="3.8" fill="#ff0000"/><rect x="431.47" y="152.10" width="3.8" height="3.8" fill="#ff0000"/><rect x="433.84" y="152.91" width="3.8" height="3.8" fill="#ff0000"/><rect x="436.01" y="153.58" width="3.8" height="3.8" fill="#ff0000"/><rect x="438.03" y="153.98" width="3.8" height="3.8" fill="#ff0000"/><rect x="439.92" y="154.12" width="3.8" height="3.8" fill="#ff0000"/><rect x="441.70" y="154.00" width="3.8" height="3.8" fill="#ff0000"/><rect x="443.26" y="153.76" width="3.8" height="3.8" fill="#ff0000"/><rect x="444.81" y="153.17" width="3.8" height="3.8" fill="#ff0000"/><rect x="446.45" y="152.22" width="3.8" height="3.8" fill="#ff0000"/><rect x="448.31" y="151.03" width="3.8" height="3.8" fill="#ff0000"/><rect x="450.30" y="149.40" width="3.8" height="3.8" fill="#ff0000"/><rect x="455.20" y="144.50" width="3.8" height="3.8" fill="#ff0000"/><rect x="459.50" y="138.80" width="3.8" height="3.8" fill="#ff0000"/><rect x="462.60" y="133.90" width="3.8" height="3.8" fill="#ff0000"/><rect x="466.00" y="128.70" width="3.8" height="3.8" fill="#ff0000"/><rect x="469.60" y="122.60" width="3.8" height="3.8" fill="#ff0000"/><rect x="474.00" y="115.80" width="3.8" height="3.8" fill="#ff0000"/><rect x="479.10" y="107.30" width="3.8" height="3.8" fill="#ff0000"/><rect x="485.00" y="98.60" width="3.8" height="3.8" fill="#ff0000"/><rect x="491.40" y="86.90" width="3.8" height="3.8" fill="#ff0000"/><rect x="499.70" y="76.20" width="3.8" height="3.8" fill="#ff0000"/></g>
<g><path d="M394.39 172.90H400.19L397.29 177.80Z" fill="#0000ff"/><path d="M394.54 171.85H400.34L397.44 176.75Z" fill="#0000ff"/><path d="M394.76 170.65H400.56L397.66 175.55Z" fill="#0000ff"/><path d="M395.06 169.26H400.86L397.96 174.16Z" fill="#0000ff"/><path d="M395.48 167.68H401.28L398.38 172.58Z" fill="#0000ff"/><path d="M396.02 165.87H401.82L398.92 170.77Z" fill="#0000ff"/><path d="M396.73 163.82H402.53L399.63 168.72Z" fill="#0000ff"/><path d="M397.65 161.51H403.45L400.55 166.41Z" fill="#0000ff"/><path d="M398.80 158.95H404.60L401.70 163.85Z" fill="#0000ff"/><path d="M400.26 156.16H406.06L403.16 161.06Z" fill="#0000ff"/><path d="M402.06 153.19H407.86L404.96 158.09Z" fill="#0000ff"/><path d="M404.25 150.12H410.05L407.15 155.02Z" fill="#0000ff"/><path d="M406.89 147.08H412.69L409.79 151.98Z" fill="#0000ff"/><path d="M409.79 143.87H415.59L412.69 148.77Z" fill="#0000ff"/><path d="M412.96 140.54H418.76L415.86 145.44Z" fill="#0000ff"/><path d="M417.49 139.47H423.29L420.39 144.37Z" fill="#0000ff"/><path d="M422.10 139.44H427.90L425.00 144.34Z" fill="#0000ff"/><path d="M426.37 139.83H432.17L429.27 144.73Z" fill="#0000ff"/><path d="M430.43 140.77H436.23L433.33 145.67Z" fill="#0000ff"/><path d="M434.18 141.98H439.98L437.08 146.88Z" fill="#0000ff"/><path d="M437.76 143.37H443.56L440.66 148.27Z" fill="#0000ff"/><path d="M441.07 144.88H446.87L443.97 149.78Z" fill="#0000ff"/><path d="M444.45 145.96H450.25L447.35 150.86Z" fill="#0000ff"/><path d="M447.67 146.75H453.47L450.57 151.65Z" fill="#0000ff"/><path d="M450.79 147.06H456.59L453.69 151.96Z" fill="#0000ff"/><path d="M453.43 147.03H459.23L456.33 151.93Z" fill="#0000ff"/><path d="M455.79 146.60H461.59L458.69 151.50Z" fill="#0000ff"/><path d="M457.63 147.10H463.43L460.53 152.00Z" fill="#0000ff"/><path d="M459.41 147.15H465.21L462.31 152.05Z" fill="#0000ff"/><path d="M461.20 146.71H467.00L464.10 151.61Z" fill="#0000ff"/><path d="M463.05 145.77H468.85L465.95 150.67Z" fill="#0000ff"/><path d="M465.00 144.30H470.80L467.90 149.20Z" fill="#0000ff"/><path d="M468.30 142.40H474.10L471.20 147.30Z" fill="#0000ff"/><path d="M472.00 139.90H477.80L474.90 144.80Z" fill="#0000ff"/><path d="M475.10 136.30H480.90L478.00 141.20Z" fill="#0000ff"/><path d="M477.50 132.00H483.30L480.40 136.90Z" fill="#0000ff"/><path d="M481.20 127.70H487.00L484.10 132.60Z" fill="#0000ff"/><path d="M484.80 121.80H490.60L487.70 126.70Z" fill="#0000ff"/><path d="M488.90 115.00H494.70L491.80 119.90Z" fill="#0000ff"/><path d="M493.40 107.00H499.20L496.30 111.90Z" fill="#0000ff"/><path d="M498.60 98.40H504.40L501.50 103.30Z" fill="#0000ff"/><path d="M505.00 87.50H510.80L507.90 92.40Z" fill="#0000ff"/><path d="M512.80 75.80H518.60L515.70 80.70Z" fill="#0000ff"/><path d="M521.90 63.30H527.70L524.80 68.20Z" fill="#0000ff"/></g>
<g><path d="M395.10 172.54V178.34L400.00 175.44Z" fill="#008000"/><path d="M395.12 171.93V177.73L400.02 174.83Z" fill="#008000"/><path d="M395.18 171.24V177.04L400.08 174.14Z" fill="#008000"/><path d="M395.28 170.43V176.23L400.18 173.33Z" fill="#008000"/><path d="M395.43 169.49V175.29L400.33 172.39Z" fill="#008000"/><path d="M395.65 168.40V174.20L400.55 171.30Z" fill="#008000"/><path d="M395.94 167.13V172.93L400.84 170.03Z" fill="#008000"/><path d="M396.33 165.65V171.45L401.23 168.55Z" fill="#008000"/><path d="M396.83 163.94V169.74L401.73 166.84Z" fill="#008000"/><path d="M397.48 161.96V167.76L402.38 164.86Z" fill="#008000"/><path d="M398.30 159.69V165.49L403.20 162.59Z" fill="#008000"/><path d="M399.34 157.10V162.90L404.24 160.00Z" fill="#008000"/><path d="M400.64 154.16V159.96L405.54 157.06Z" fill="#008000"/><path d="M402.26 150.88V156.68L407.16 153.78Z" fill="#008000"/><path d="M404.26 147.27V153.07L409.16 150.17Z" fill="#008000"/><path d="M406.71 143.37V149.17L411.61 146.27Z" fill="#008000"/><path d="M409.68 139.28V145.08L414.58 142.18Z" fill="#008000"/><path d="M413.50 135.20V141.00L418.40 138.10Z" fill="#008000"/><path d="M419.00 131.50V137.30L423.90 134.40Z" fill="#008000"/><path d="M424.60 127.80V133.60L429.50 130.70Z" fill="#008000"/><path d="M430.10 125.10V130.90L435.00 128.00Z" fill="#008000"/><path d="M435.10 124.50V130.30L440.00 127.40Z" fill="#008000"/><path d="M440.70 124.10V129.90L445.60 127.00Z" fill="#008000"/><path d="M449.10 120.30V126.10L454.00 123.20Z" fill="#008000"/><path d="M455.10 120.30V126.10L460.00 123.20Z" fill="#008000"/><path d="M461.30 120.40V126.20L466.20 123.30Z" fill="#008000"/><path d="M469.00 123.20V129.00L473.90 126.10Z" fill="#008000"/><path d="M477.10 122.60V128.40L482.00 125.50Z" fill="#008000"/><path d="M482.00 124.70V130.50L486.90 127.60Z" fill="#008000"/><path d="M486.90 125.80V131.60L491.80 128.70Z" fill="#008000"/><path d="M490.10 126.30V132.10L495.00 129.20Z" fill="#008000"/><path d="M494.90 127.40V133.20L499.80 130.30Z" fill="#008000"/><path d="M500.80 124.70V130.50L505.70 127.60Z" fill="#008000"/><path d="M511.40 114.10V119.90L516.30 117.00Z" fill="#008000"/><path d="M516.20 107.80V113.60L521.10 110.70Z" fill="#008000"/><path d="M521.80 100.40V106.20L526.70 103.30Z" fill="#008000"/><path d="M527.40 91.60V97.40L532.30 94.50Z" fill="#008000"/><path d="M534.70 79.90V85.70L539.60 82.80Z" fill="#008000"/><path d="M543.70 67.60V73.40L548.60 70.50Z" fill="#008000"/><path d="M553.50 53.40V59.20L558.40 56.30Z" fill="#008000"/><path d="M565.40 38.30V44.10L570.30 41.20Z" fill="#008000"/></g>
<g><path d="M397.18 172.85 L397.88 174.68 L399.84 174.78 L398.32 176.02 L398.82 177.91 L397.18 176.85 L395.53 177.91 L396.04 176.02 L394.51 174.78 L396.47 174.68Z" fill="#8020f0"/><path d="M397.08 172.06 L397.79 173.89 L399.75 174.00 L398.23 175.23 L398.73 177.13 L397.08 176.06 L395.44 177.13 L395.94 175.23 L394.42 174.00 L396.38 173.89Z" fill="#8020f0"/><path d="M397.03 171.16 L397.74 172.99 L399.70 173.10 L398.17 174.33 L398.68 176.23 L397.03 175.16 L395.39 176.23 L395.89 174.33 L394.37 173.10 L396.33 172.99Z" fill="#8020f0"/><path d="M397.03 170.13 L397.73 171.96 L399.69 172.06 L398.17 173.30 L398.68 175.19 L397.03 174.13 L395.38 175.19 L395.89 173.30 L394.37 172.06 L396.32 171.96Z" fill="#8020f0"/><path d="M397.09 168.93 L397.79 170.76 L399.75 170.87 L398.23 172.10 L398.73 174.00 L397.09 172.93 L395.44 174.00 L395.94 172.10 L394.42 170.87 L396.38 170.76Z" fill="#8020f0"/><path d="M397.22 167.55 L397.92 169.38 L399.88 169.49 L398.36 170.72 L398.86 172.62 L397.22 171.55 L395.57 172.62 L396.08 170.72 L394.55 169.49 L396.51 169.38Z" fill="#8020f0"/><path d="M397.44 165.95 L398.14 167.78 L400.10 167.89 L398.58 169.13 L399.08 171.02 L397.44 169.95 L395.79 171.02 L396.30 169.13 L394.77 167.89 L396.73 167.78Z" fill="#8020f0"/><path d="M397.77 164.10 L398.48 165.93 L400.43 166.04 L398.91 167.27 L399.42 169.17 L397.77 168.10 L396.13 169.17 L396.63 167.27 L395.11 166.04 L397.07 165.93Z" fill="#8020f0"/><path d="M398.24 161.96 L398.95 163.79 L400.91 163.89 L399.38 165.13 L399.89 167.02 L398.24 165.96 L396.60 167.02 L397.10 165.13 L395.58 163.89 L397.54 163.79Z" fill="#8020f0"/><path d="M398.93 159.51 L399.64 161.34 L401.60 161.45 L400.08 162.68 L400.58 164.58 L398.93 163.51 L397.29 164.58 L397.79 162.68 L396.27 161.45 L398.23 161.34Z" fill="#8020f0"/><path d="M400.17 156.90 L400.88 158.72 L402.84 158.83 L401.31 160.07 L401.82 161.96 L400.17 160.90 L398.53 161.96 L399.03 160.07 L397.51 158.83 L399.47 158.72Z" fill="#8020f0"/><path d="M401.67 153.87 L402.38 155.70 L404.34 155.81 L402.81 157.05 L403.32 158.94 L401.67 157.87 L400.03 158.94 L400.53 157.05 L399.01 155.81 L400.97 155.70Z" fill="#8020f0"/><path d="M403.46 150.40 L404.16 152.23 L406.12 152.34 L404.60 153.57 L405.10 155.47 L403.46 154.40 L401.81 155.47 L402.32 153.57 L400.79 152.34 L402.75 152.23Z" fill="#8020f0"/><path d="M404.85 146.04 L405.55 147.87 L407.51 147.98 L405.99 149.22 L406.49 151.11 L404.85 150.04 L403.20 151.11 L403.71 149.22 L402.19 147.98 L404.14 147.87Z" fill="#8020f0"/><path d="M407.84 141.88 L408.55 143.71 L410.50 143.81 L408.98 145.05 L409.49 146.94 L407.84 145.88 L406.20 146.94 L406.70 145.05 L405.18 143.81 L407.14 143.71Z" fill="#8020f0"/><path d="M411.00 137.10 L411.71 138.93 L413.66 139.03 L412.14 140.27 L412.65 142.17 L411.00 141.10 L409.35 142.17 L409.86 140.27 L408.34 139.03 L410.29 138.93Z" fill="#8020f0"/><path d="M415.60 132.50 L416.31 134.33 L418.26 134.43 L416.74 135.67 L417.25 137.57 L415.60 136.50 L413.95 137.57 L414.46 135.67 L412.94 134.43 L414.89 134.33Z" fill="#8020f0"/><path d="M420.20 129.40 L420.91 131.23 L422.86 131.33 L421.34 132.57 L421.85 134.47 L420.20 133.40 L418.55 134.47 L419.06 132.57 L417.54 131.33 L419.49 131.23Z" fill="#8020f0"/><path d="M425.70 125.20 L426.41 127.03 L428.36 127.13 L426.84 128.37 L427.35 130.27 L425.70 129.20 L424.05 130.27 L424.56 128.37 L423.04 127.13 L424.99 127.03Z" fill="#8020f0"/><path d="M431.30 120.70 L432.01 122.53 L433.96 122.63 L432.44 123.87 L432.95 125.77 L431.30 124.70 L429.65 125.77 L430.16 123.87 L428.64 122.63 L430.59 122.53Z" fill="#8020f0"/><path d="M436.80 118.20 L437.51 120.03 L439.46 120.13 L437.94 121.37 L438.45 123.27 L436.80 122.20 L435.15 123.27 L435.66 121.37 L434.14 120.13 L436.09 120.03Z" fill="#8020f0"/><path d="M446.20 112.20 L446.91 114.03 L448.86 114.13 L447.34 115.37 L447.85 117.27 L446.20 116.20 L444.55 117.27 L445.06 115.37 L443.54 114.13 L445.49 114.03Z" fill="#8020f0"/><path d="M453.00 110.60 L453.71 112.43 L455.66 112.53 L454.14 113.77 L454.65 115.67 L453.00 114.60 L451.35 115.67 L451.86 113.77 L450.34 112.53 L452.29 112.43Z" fill="#8020f0"/><path d="M459.20 109.70 L459.91 111.53 L461.86 111.63 L460.34 112.87 L460.85 114.77 L459.20 113.70 L457.55 114.77 L458.06 112.87 L456.54 111.63 L458.49 111.53Z" fill="#8020f0"/><path d="M467.10 108.30 L467.81 110.13 L469.76 110.23 L468.24 111.47 L468.75 113.37 L467.10 112.30 L465.45 113.37 L465.96 111.47 L464.44 110.23 L466.39 110.13Z" fill="#8020f0"/><path d="M473.90 108.50 L474.61 110.33 L476.56 110.43 L475.04 111.67 L475.55 113.57 L473.90 112.50 L472.25 113.57 L472.76 111.67 L471.24 110.43 L473.19 110.33Z" fill="#8020f0"/><path d="M482.20 108.50 L482.91 110.33 L484.86 110.43 L483.34 111.67 L483.85 113.57 L482.20 112.50 L480.55 113.57 L481.06 111.67 L479.54 110.43 L481.49 110.33Z" fill="#8020f0"/><path d="M488.60 110.00 L489.31 111.83 L491.26 111.93 L489.74 113.17 L490.25 115.07 L488.60 114.00 L486.95 115.07 L487.46 113.17 L485.94 111.93 L487.89 111.83Z" fill="#8020f0"/><path d="M494.00 113.30 L494.71 115.13 L496.66 115.23 L495.14 116.47 L495.65 118.37 L494.00 117.30 L492.35 118.37 L492.86 116.47 L491.34 115.23 L493.29 115.13Z" fill="#8020f0"/><path d="M500.40 118.20 L501.11 120.03 L503.06 120.13 L501.54 121.37 L502.05 123.27 L500.40 122.20 L498.75 123.27 L499.26 121.37 L497.74 120.13 L499.69 120.03Z" fill="#8020f0"/><path d="M505.50 119.00 L506.21 120.83 L508.16 120.93 L506.64 122.17 L507.15 124.07 L505.50 123.00 L503.85 124.07 L504.36 122.17 L502.84 120.93 L504.79 120.83Z" fill="#8020f0"/><path d="M509.80 119.00 L510.51 120.83 L512.46 120.93 L510.94 122.17 L511.45 124.07 L509.80 123.00 L508.15 124.07 L508.66 122.17 L507.14 120.93 L509.09 120.83Z" fill="#8020f0"/><path d="M514.50 118.20 L515.21 120.03 L517.16 120.13 L515.64 121.37 L516.15 123.27 L514.50 122.20 L512.85 123.27 L513.36 121.37 L511.84 120.13 L513.79 120.03Z" fill="#8020f0"/><path d="M519.00 117.50 L519.71 119.33 L521.66 119.43 L520.14 120.67 L520.65 122.57 L519.00 121.50 L517.35 122.57 L517.86 120.67 L516.34 119.43 L518.29 119.33Z" fill="#8020f0"/><path d="M523.30 114.80 L524.01 116.63 L525.96 116.73 L524.44 117.97 L524.95 119.87 L523.30 118.80 L521.65 119.87 L522.16 117.97 L520.64 116.73 L522.59 116.63Z" fill="#8020f0"/><path d="M528.20 110.60 L528.91 112.43 L530.86 112.53 L529.34 113.77 L529.85 115.67 L528.20 114.60 L526.55 115.67 L527.06 113.77 L525.54 112.53 L527.49 112.43Z" fill="#8020f0"/><path d="M533.00 105.40 L533.71 107.23 L535.66 107.33 L534.14 108.57 L534.65 110.47 L533.00 109.40 L531.35 110.47 L531.86 108.57 L530.34 107.33 L532.29 107.23Z" fill="#8020f0"/><path d="M538.60 98.90 L539.31 100.73 L541.26 100.83 L539.74 102.07 L540.25 103.97 L538.60 102.90 L536.95 103.97 L537.46 102.07 L535.94 100.83 L537.89 100.73Z" fill="#8020f0"/><path d="M544.80 91.00 L545.51 92.83 L547.46 92.93 L545.94 94.17 L546.45 96.07 L544.80 95.00 L543.15 96.07 L543.66 94.17 L542.14 92.93 L544.09 92.83Z" fill="#8020f0"/><path d="M551.90 81.10 L552.61 82.93 L554.56 83.03 L553.04 84.27 L553.55 86.17 L551.90 85.10 L550.25 86.17 L550.76 84.27 L549.24 83.03 L551.19 82.93Z" fill="#8020f0"/><path d="M560.00 69.00 L560.71 70.83 L562.66 70.93 L561.14 72.17 L561.65 74.07 L560.00 73.00 L558.35 74.07 L558.86 72.17 L557.34 70.93 L559.29 70.83Z" fill="#8020f0"/><path d="M568.90 55.40 L569.61 57.23 L571.56 57.33 L570.04 58.57 L570.55 60.47 L568.90 59.40 L567.25 60.47 L567.76 58.57 L566.24 57.33 L568.19 57.23Z" fill="#8020f0"/><path d="M581.00 40.60 L581.71 42.43 L583.66 42.53 L582.14 43.77 L582.65 45.67 L581.00 44.60 L579.35 45.67 L579.86 43.77 L578.34 42.53 L580.29 42.43Z" fill="#8020f0"/><path d="M594.00 25.00 L594.71 26.83 L596.66 26.93 L595.14 28.17 L595.65 30.07 L594.00 29.00 L592.35 30.07 L592.86 28.17 L591.34 26.93 L593.29 26.83Z" fill="#8020f0"/></g>
<text x="433.0" y="166.8" font-size="8.8" fill="#000">19 Hz</text>
<text x="463.8" y="155.0" font-size="8.8" fill="#000">3.95 Hz</text>
<text x="492.4" y="139.9" font-size="8.8" fill="#000">1.38 Hz</text>
<text x="517.3" y="128.0" font-size="8.8" fill="#000">1.06 Hz</text>
</svg></body></html>
